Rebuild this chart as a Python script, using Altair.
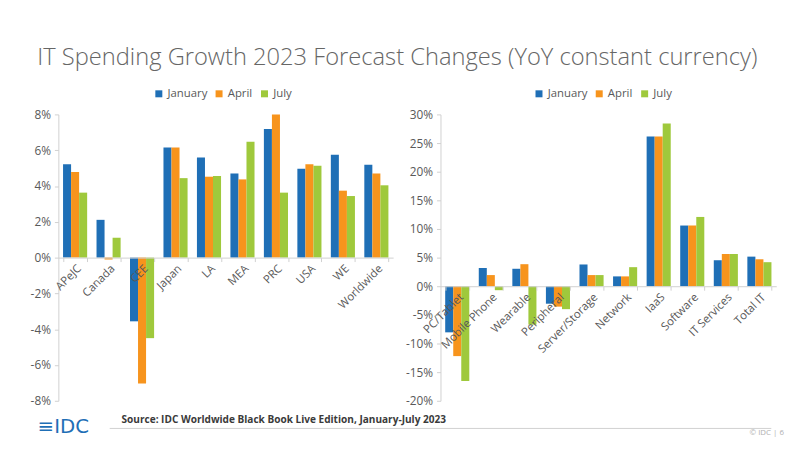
import altair as alt
import pandas as pd

series = ["January", "April", "July"]
colors = ["#1f6fb6", "#f7941d", "#9fc93c"]

region_cats = ["APeJC", "Canada", "CEE", "Japan", "LA", "MEA", "PRC", "USA", "WE", "Worldwide"]
region_jan = [5.22, 2.11, -3.56, 6.15, 5.59, 4.70, 7.19, 4.96, 5.74, 5.19]
region_apr = [4.78, -0.10, -7.04, 6.15, 4.52, 4.37, 8.00, 5.22, 3.74, 4.70]
region_jul = [3.63, 1.11, -4.50, 4.44, 4.56, 6.48, 3.63, 5.13, 3.44, 4.04]
region_ticks = [-8, -6, -4, -2, 0, 2, 4, 6, 8]

tech_cats = ["PC/Tablet", "Mobile Phone", "Wearable", "Peripheral", "Server/Storage",
             "Network", "IaaS", "Software", "IT Services", "Total IT"]
tech_jan = [-8.05, 3.20, 3.05, -3.05, 3.80, 1.72, 26.15, 10.60, 4.54, 5.17]
tech_apr = [-12.20, 1.95, 3.85, -3.56, 1.95, 1.72, 26.15, 10.60, 5.63, 4.71]
tech_jul = [-16.55, -0.69, -6.70, -4.00, 1.95, 3.33, 28.40, 12.10, 5.63, 4.20]
tech_ticks = [-20, -15, -10, -5, 0, 5, 10, 15, 20, 25, 30]

title_text = "IT Spending Growth 2023 Forecast Changes (YoY constant currency)"
source_text = "Source: IDC Worldwide Black Book Live Edition, January-July 2023"

FONT = "Open Sans"
GRAY = "#595959"
LINE = "#d0d0d0"
H = 290


def long_df(cats, jan, apr, jul):
    rows = []
    for s, vals in zip(series, [jan, apr, jul]):
        for c, v in zip(cats, vals):
            rows.append({"cat": c, "series": s, "value": v})
    return pd.DataFrame(rows)


def bar_panel(df, cats, domain, ticks, width, legend_x):
    zero_from_bottom = H * (0 - domain[0]) / (domain[1] - domain[0])
    return alt.Chart(df).mark_bar().encode(
        x=alt.X("cat:N", sort=cats, title=None,
                scale=alt.Scale(paddingInner=0.28, paddingOuter=0.14),
                axis=alt.Axis(labelAngle=-45, offset=-zero_from_bottom, tickBand="extent",
                              domainColor=LINE, tickColor=LINE, tickSize=4,
                              labelColor=GRAY, labelFontSize=11.5, labelFont=FONT,
                              labelPadding=1, zindex=1, labelOverlap=False)),
        xOffset=alt.XOffset("series:N", sort=series,
                            scale=alt.Scale(paddingInner=0, paddingOuter=0)),
        y=alt.Y("value:Q", title=None,
                scale=alt.Scale(domain=domain, nice=False, zero=False),
                axis=alt.Axis(values=ticks, labelExpr="datum.value + '%'", grid=False,
                              domainColor=LINE, tickColor=LINE, tickSize=4,
                              labelColor=GRAY, labelFontSize=12, labelFont=FONT,
                              labelPadding=4)),
        color=alt.Color("series:N", sort=series,
                        scale=alt.Scale(domain=series, range=colors),
                        legend=alt.Legend(title=None, orient="none", legendX=legend_x,
                                          legendY=-27, direction="horizontal",
                                          symbolType="square", symbolSize=50,
                                          symbolStrokeWidth=0, labelFontSize=11.5,
                                          labelFont=FONT, labelColor=GRAY,
                                          columnPadding=6, labelOffset=3)),
    ).properties(width=width, height=H)


left_bars = bar_panel(long_df(region_cats, region_jan, region_apr, region_jul),
                      region_cats, [-8, 8], region_ticks, 339, 96)
right_bars = bar_panel(long_df(tech_cats, tech_jan, tech_apr, tech_jul),
                       tech_cats, [-20, 30], tech_ticks, 340, 94)

foot = pd.DataFrame({"t": [source_text]})
source = alt.Chart(foot).mark_text(align="left", baseline="middle", font=FONT,
                                   fontWeight="bold", fontSize=10.2, color="#3a3a3a").encode(
    x=alt.value(64), y=alt.value(309), text="t:N")
logo = alt.Chart(pd.DataFrame({"t": ["≡IDC"]})).mark_text(
    align="left", baseline="middle", font="DejaVu Sans", fontSize=20, color="#1f6fb6").encode(
    x=alt.value(-21), y=alt.value(317), text="t:N")
rule = alt.Chart(foot).mark_rule(color=LINE, strokeWidth=1).encode(
    x=alt.value(52), x2=alt.value(722), y=alt.value(318))
copy = alt.Chart(pd.DataFrame({"t": ["© IDC  |  6"]})).mark_text(
    align="left", baseline="middle", font=FONT, fontSize=8, color="#b0b0b0").encode(
    x=alt.value(700), y=alt.value(323), text="t:N")

left = alt.layer(left_bars, rule, source, logo, copy)

chart = alt.hconcat(left, right_bars, spacing=48, bounds="flush").resolve_scale(
    color="independent", y="independent", x="independent"
).resolve_legend(color="independent").properties(
    title=alt.TitleParams(title_text, font=FONT, fontSize=24, fontWeight=300,
                          color="#666666", anchor="middle", offset=18, dx=-12),
    padding={"left": 22, "top": 36, "right": 5, "bottom": 5},
).configure_view(stroke=None)

chart.save("out.html", embed_options={"renderer": "svg", "actions": False})
